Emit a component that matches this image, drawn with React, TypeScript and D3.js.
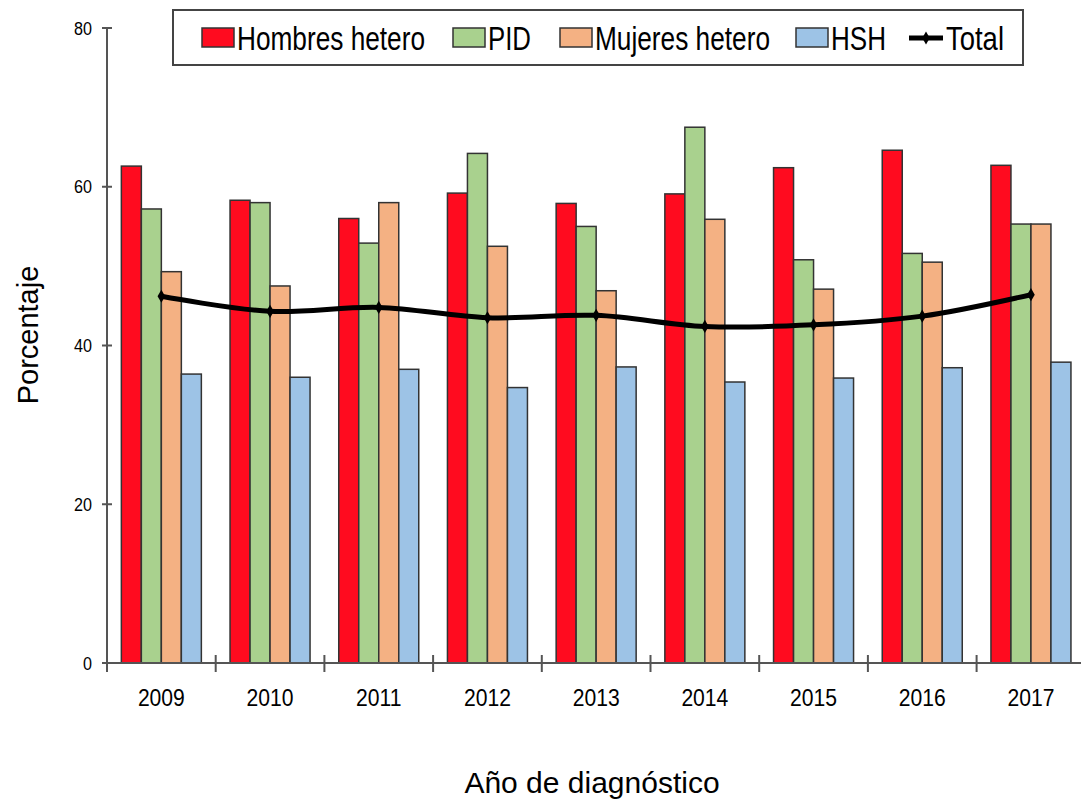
import React, { useEffect, useRef } from "react";
import * as d3 from "d3";

const years = ["2009", "2010", "2011", "2012", "2013", "2014", "2015", "2016", "2017"];
const hombresHetero = [62.6, 58.3, 56.0, 59.2, 57.9, 59.1, 62.4, 64.6, 62.7];
const pid = [57.2, 58.0, 52.9, 64.2, 55.0, 67.5, 50.8, 51.6, 55.3];
const mujeresHetero = [49.3, 47.5, 58.0, 52.5, 46.9, 55.9, 47.1, 50.5, 55.3];
const hsh = [36.4, 36.0, 37.0, 34.7, 37.3, 35.4, 35.9, 37.2, 37.9];
const total = [46.2, 44.3, 44.8, 43.5, 43.8, 42.4, 42.6, 43.7, 46.4];
const yTicks = [0, 20, 40, 60, 80];
const seriesNames = ["Hombres hetero", "PID", "Mujeres hetero", "HSH"];
const seriesValues = [hombresHetero, pid, mujeresHetero, hsh];
const seriesColors = ["#FF0B1F", "#A9D18E", "#F4B183", "#9DC3E6"];

const W = 1081;
const H = 801;
const left = 107;
const step = 108.7;
const top = 28;
const bottom = 663;
const sans = "'Liberation Sans', Arial, sans-serif";

export default function App() {
  const ref = useRef<SVGSVGElement | null>(null);

  useEffect(() => {
    const svg = d3.select(ref.current);
    svg.selectAll("*").remove();

    const x0 = d3
      .scaleBand<string>()
      .domain(years)
      .range([left, left + step * years.length])
      .paddingInner(0.264)
      .paddingOuter(0.132);
    const x1 = d3.scaleBand<number>().domain([0, 1, 2, 3]).range([0, x0.bandwidth()]);
    const y = d3.scaleLinear().domain([0, 80]).range([bottom, top]);

    // bars
    seriesValues.forEach((vals, si) => {
      svg
        .append("g")
        .selectAll("rect")
        .data(vals)
        .join("rect")
        .attr("x", (_, i) => (x0(years[i]) as number) + (x1(si) as number))
        .attr("y", (d) => y(d))
        .attr("width", x1.bandwidth())
        .attr("height", (d) => y(0) - y(d))
        .attr("fill", seriesColors[si])
        .attr("stroke", "#333")
        .attr("stroke-width", 1.5);
    });

    // axes
    const axisColor = "#555";
    svg
      .append("line")
      .attr("x1", left)
      .attr("x2", left)
      .attr("y1", y(80))
      .attr("y2", bottom + 9)
      .attr("stroke", axisColor)
      .attr("stroke-width", 2);
    svg
      .append("line")
      .attr("x1", left - 5)
      .attr("x2", W + 10)
      .attr("y1", bottom)
      .attr("y2", bottom)
      .attr("stroke", axisColor)
      .attr("stroke-width", 2);

    const yt = svg.append("g");
    yTicks.forEach((t) => {
      yt.append("line")
        .attr("x1", left - 5)
        .attr("x2", left + 5)
        .attr("y1", y(t))
        .attr("y2", y(t))
        .attr("stroke", axisColor)
        .attr("stroke-width", 2);
      yt.append("text")
        .attr("transform", `translate(92,${y(t) + 6.5}) scale(0.85,1)`)
        .attr("text-anchor", "end")
        .attr("font-family", sans)
        .attr("font-size", 19)
        .attr("fill", "#000")
        .text(String(t));
    });

    const xt = svg.append("g");
    years.forEach((yr, i) => {
      const bx = left + step * (i + 1);
      xt.append("line")
        .attr("x1", bx)
        .attr("x2", bx)
        .attr("y1", bottom - 8)
        .attr("y2", bottom + 9)
        .attr("stroke", axisColor)
        .attr("stroke-width", 2);
      xt.append("text")
        .attr(
          "transform",
          `translate(${(x0(yr) as number) + x0.bandwidth() / 2},706) scale(0.88,1)`
        )
        .attr("text-anchor", "middle")
        .attr("font-family", sans)
        .attr("font-size", 24)
        .attr("fill", "#000")
        .text(yr);
    });

    // total line
    const cx = (i: number) => (x0(years[i]) as number) + x0.bandwidth() / 2;
    const line = d3
      .line<number>()
      .x((_, i) => cx(i))
      .y((d) => y(d))
      .curve(d3.curveCatmullRom.alpha(0.5));
    svg
      .append("path")
      .attr("d", line(total))
      .attr("fill", "none")
      .attr("stroke", "#000")
      .attr("stroke-width", 5);
    const sym = d3.symbol().type(d3.symbolDiamond).size(50);
    svg
      .append("g")
      .selectAll("path")
      .data(total)
      .join("path")
      .attr("d", sym() as string)
      .attr("transform", (d, i) => `translate(${cx(i)},${y(d)})`)
      .attr("fill", "#000");

    // axis titles
    svg
      .append("text")
      .attr("transform", "translate(38,335) rotate(-90)")
      .attr("text-anchor", "middle")
      .attr("font-family", sans)
      .attr("font-size", 29)
      .attr("fill", "#000")
      .text("Porcentaje");
    svg
      .append("text")
      .attr("x", 592)
      .attr("y", 793)
      .attr("text-anchor", "middle")
      .attr("font-family", sans)
      .attr("font-size", 30)
      .attr("fill", "#000")
      .text("Año de diagnóstico");

    // legend
    const lg = svg.append("g");
    lg.append("rect")
      .attr("x", 173)
      .attr("y", 10)
      .attr("width", 850)
      .attr("height", 55)
      .attr("fill", "#fff")
      .attr("stroke", "#444")
      .attr("stroke-width", 2);
    const swX = [202, 453, 560, 796];
    const txtLen = [188, 43, 175, 55];
    seriesNames.forEach((n, i) => {
      lg.append("rect")
        .attr("x", swX[i])
        .attr("y", 28)
        .attr("width", 32)
        .attr("height", 19)
        .attr("fill", seriesColors[i])
        .attr("stroke", "#333")
        .attr("stroke-width", 1.5);
      lg.append("text")
        .attr("x", swX[i] + 35)
        .attr("y", 50)
        .attr("font-family", sans)
        .attr("font-size", 33)
        .attr("textLength", txtLen[i])
        .attr("lengthAdjust", "spacingAndGlyphs")
        .attr("fill", "#000")
        .text(n);
    });
    lg.append("line")
      .attr("x1", 909)
      .attr("x2", 943)
      .attr("y1", 38)
      .attr("y2", 38)
      .attr("stroke", "#000")
      .attr("stroke-width", 5);
    lg.append("path")
      .attr("d", sym() as string)
      .attr("transform", "translate(926,38)")
      .attr("fill", "#000");
    lg.append("text")
      .attr("x", 946)
      .attr("y", 50)
      .attr("font-family", sans)
      .attr("font-size", 33)
      .attr("textLength", 58)
      .attr("lengthAdjust", "spacingAndGlyphs")
      .attr("fill", "#000")
      .text("Total");
  }, []);

  return (
    <svg
      ref={ref}
      width={W}
      height={H}
      style={{ position: "absolute", left: 0, top: 0, background: "#fff" }}
    />
  );
}
